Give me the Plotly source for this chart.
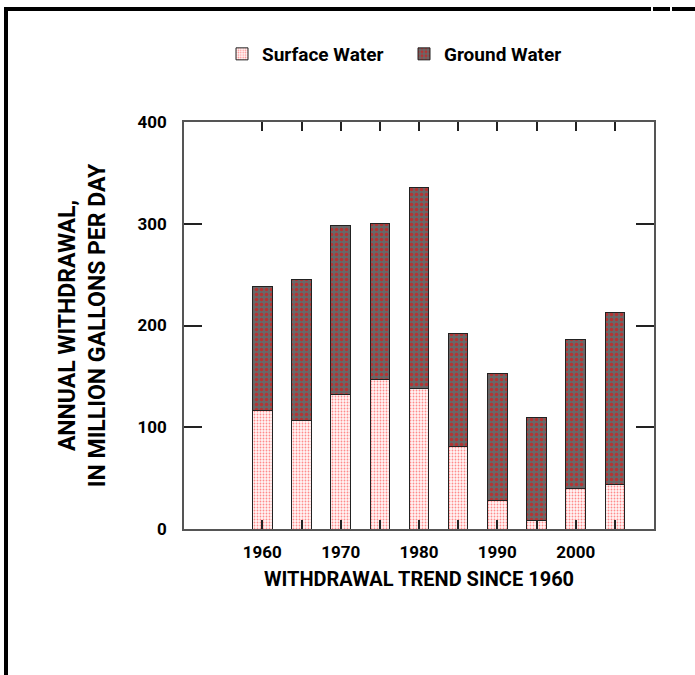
import plotly.graph_objects as go

years = [1960, 1965, 1970, 1975, 1980, 1985, 1990, 1995, 2000, 2005]
surface_water = [116, 107, 132, 147, 138, 81, 28, 8.5, 40, 44]
ground_water = [122, 138, 166, 153, 198, 111, 125, 101.5, 146, 169]

x_tick_vals = [1960, 1965, 1970, 1975, 1980, 1985, 1990, 1995, 2000, 2005]
x_tick_text = ["1960", "", "1970", "", "1980", "", "1990", "", "2000", ""]
y_tick_vals = [0, 100, 200, 300, 400]

FONT = "Roboto, Liberation Sans, Arial, sans-serif"

W, H = 695, 675
L, R, T, B = 184, 41, 122, 146
PW, PH = W - L - R, H - T - B


def px(x):
    return (x - L) / PW


def py(y):
    return (H - B - y) / PH


fig = go.Figure()
fig.add_trace(go.Bar(
    x=years, y=surface_water, name="Surface Water", width=2.5,
    marker=dict(
        color="#ffffff",
        line=dict(color="#222222", width=1),
        pattern=dict(shape=".", fgcolor="#ff2020", bgcolor="#fff6f6",
                     size=3, solidity=0.3),
    ),
))
fig.add_trace(go.Bar(
    x=years, y=ground_water, name="Ground Water", width=2.5,
    marker=dict(
        color="#6a6a6a",
        line=dict(color="#222222", width=1),
        pattern=dict(shape=".", fgcolor="#ff0000", bgcolor="#686868",
                     size=5, solidity=0.4),
    ),
))

# decorative frame (top and left rules)
shapes = [
    dict(type="line", xref="paper", yref="paper", x0=px(4), x1=px(651),
         y0=py(9), y1=py(9), line=dict(color="black", width=4)),
    dict(type="line", xref="paper", yref="paper", x0=px(653), x1=px(670),
         y0=py(9), y1=py(9), line=dict(color="black", width=4)),
    dict(type="line", xref="paper", yref="paper", x0=px(672), x1=px(700),
         y0=py(9), y1=py(9), line=dict(color="black", width=4)),
    dict(type="line", xref="paper", yref="paper", x0=px(6), x1=px(6),
         y0=py(7), y1=py(680), line=dict(color="black", width=4)),
]

fig.update_layout(
    width=W, height=H,
    margin=dict(l=L, r=R, t=T, b=B),
    barmode="stack",
    paper_bgcolor="white", plot_bgcolor="white",
    font=dict(family=FONT, color="black", size=17, weight="bold"),
    showlegend=True,
    legend=dict(orientation="h", x=px(222), xanchor="left", y=py(54),
                yanchor="middle", font=dict(size=19, weight="bold"),
                itemwidth=30, entrywidth=137, traceorder="normal",
                bgcolor="rgba(0,0,0,0)"),
    shapes=shapes,
    xaxis=dict(
        range=[1950, 2010], tickvals=x_tick_vals, ticktext=x_tick_text,
        ticks="inside", ticklen=9, tickwidth=1.5, tickcolor="#222222",
        showline=True, linecolor="#555555", linewidth=1.5, mirror="ticks",
        showgrid=False, zeroline=False, ticklabelstandoff=7,
        tickfont=dict(size=17, weight="bold"),
        title=dict(text="WITHDRAWAL TREND SINCE 1960", standoff=11,
                   font=dict(size=20, weight="bold")),
    ),
    yaxis=dict(
        range=[0, 400], tickvals=y_tick_vals,
        ticks="inside", ticklen=18, tickwidth=1.5, tickcolor="#222222",
        showline=True, linecolor="#555555", linewidth=1.5, mirror="ticks",
        showgrid=False, zeroline=False, ticklabelstandoff=12,
        tickfont=dict(size=17, weight="bold"),
        title=dict(text="ANNUAL WITHDRAWAL,<br>IN MILLION GALLONS PER DAY",
                   standoff=26, font=dict(size=23, weight="bold")),
    ),
)

fig.write_html("out.html", config={"displayModeBar": False},
               post_script="document.body.style.margin='0';")
